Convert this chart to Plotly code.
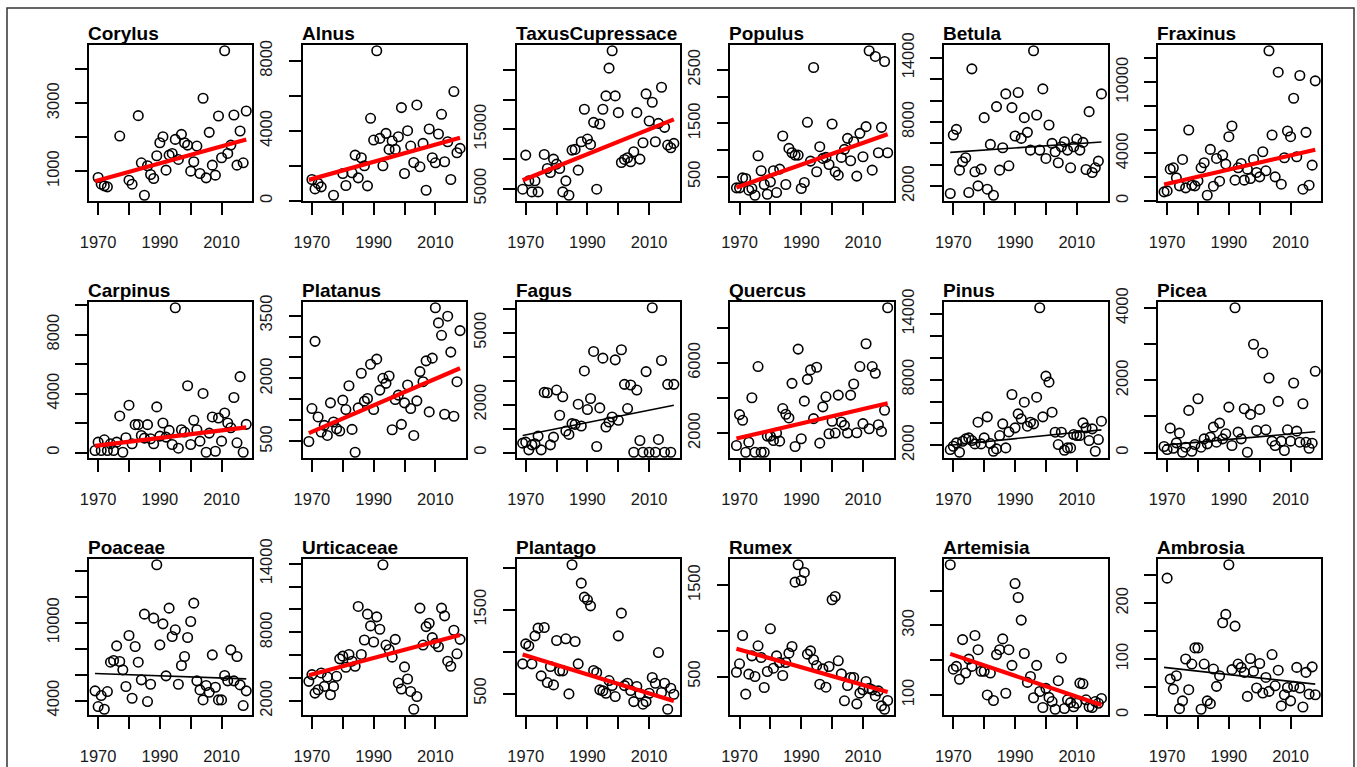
import plotly.graph_objects as go

# ---------------- data ----------------
YEARS = [1969, 1970, 1971, 1972, 1973, 1974, 1975, 1976, 1977, 1978,
         1979, 1980, 1981, 1982, 1983, 1984, 1985, 1986, 1987, 1988,
         1989, 1990, 1991, 1992, 1993, 1994, 1995, 1996, 1997, 1998,
         1999, 2000, 2001, 2002, 2003, 2004, 2005, 2006, 2007, 2008,
         2009, 2010, 2011, 2012, 2013, 2014, 2015, 2016, 2017, 2018]

corylus_years = [1970, 1971, 1972, 1973, 1977, 1980, 1981, 1983] + YEARS[15:]
corylus = [813, 616, 567, 537, 2034, 734, 616, 2635, 1246, 291, 1158, 902, 783, 1453, 1837, 2015,
           1030, 1473, 1522, 1936, 1345, 2084, 1837, 1768, 1000, 1276, 1739, 931, 3147, 803, 2143,
           1177, 882, 2625, 1394, 4546, 1522, 1768, 2655, 1177, 2182, 1246, 2773]

alnus_years = [1970, 1971, 1972, 1973, 1977, 1980, 1981, 1983] + YEARS[15:]
alnus = [1222, 687, 993, 802, 325, 1565, 878, 1604, 2615, 1317, 2463, 2004, 859, 4715, 3474, 8571,
         3570, 2004, 3856, 2940, 3417, 2940, 3665, 5326, 1565, 4009, 3131, 2195, 5479, 1947, 3283,
         611, 4104, 2463, 2176, 3818, 4944, 2234, 3379, 1222, 6242, 2749, 2997]

taxus_years = YEARS[0:6] + YEARS[7:]
taxus = [4887, 10634, 6296, 4437, 6296, 4437, 10747, 8380, 7704, 9958, 9113, 8380, 4437, 6296, 3873,
         11479, 11592, 8099, 12888, 18352, 13338, 12437, 16155, 4887, 15874, 18352, 20606, 25282,
         28212, 20606, 17789, 9394, 9901, 10183, 9507, 11197, 17789, 9958, 12718, 20944, 16381,
         19536, 12888, 15986, 22071, 15310, 12324, 11873, 12606]

populus = [294, 294, 481, 469, 250, 281, 156, 894, 613, 356, 175, 406, 613, 206, 644, 1263, 356, 1031,
           950, 906, 906, 281, 394, 1519, 794, 2544, 594, 1063, 844, 863, 731, 1488, 594, 531, 863,
           1013, 1219, 800, 1156, 513, 1313, 875, 1438, 2856, 625, 2750, 950, 1425, 2656, 950]

betula = [1313, 6781, 7313, 3500, 4281, 4656, 1406, 12969, 3344, 2031, 3594, 8406, 1719, 5906, 1156,
          9438, 3500, 5594, 10625, 3906, 9344, 6688, 10750, 6469, 8406, 7031, 5375, 14656, 8656, 5375,
          11094, 4594, 7719, 6000, 5219, 4188, 5688, 6156, 5375, 3719, 5688, 6406, 5375, 6094, 3563,
          8969, 3281, 3719, 4344, 10625]

fraxinus = [761, 845, 2676, 2789, 1944, 1268, 3493, 1099, 5972, 1324, 1268, 1690, 2789, 3211, 479,
            4338, 1240, 3578, 1662, 3859, 3099, 5409, 6310, 1747, 2789, 3155, 1747, 2676, 1887, 3493,
            2394, 2028, 4141, 2535, 12648, 5549, 2028, 10845, 1409, 3634, 5887, 5409, 8648, 3718,
            10564, 986, 5775, 1324, 3014, 10113]

carpinus = [137, 707, 137, 866, 137, 593, 137, 707, 2484, 23, 1003, 3213, 593, 1892, 1892, 1162, 980,
            1892, 934, 593, 3099, 1117, 2006, 1048, 1504, 547, 9823, 296, 1550, 1390, 4535, 547, 2188,
            1550, 775, 4011, 23, 1322, 2416, 91, 2347, 775, 2689, 2006, 1686, 3738, 661, 5151, 23, 1914]

platanus = [500, 1284, 2884, 1084, 724, 884, 644, 1420, 964, 804, 748, 1484, 1260, 1828, 788, 244,
            1300, 2124, 1460, 1524, 2340, 1260, 2460, 1724, 2004, 1884, 2060, 780, 1500, 1604, 908,
            1420, 1844, 1284, 644, 1468, 2164, 1924, 2420, 1204, 2484, 3684, 3324, 3028, 1148, 3484,
            2628, 1100, 1924, 3140]

fagus = [393, 435, 112, 322, 365, 687, 112, 2510, 2496, 322, 645, 2608, 1556, 2327, 897, 757, 1206,
         1178, 2019, 1108, 3407, 1795, 2257, 4220, 252, 1865, 3940, 1066, 1276, 1486, 3870, 1346,
         4290, 2846, 1837, 2818, 14, 2608, 505, 14, 3379, 14, 6043, 14, 547, 3842, 14, 2846, 14, 2846]

quercus = [1291, 3054, 2728, 907, 1482, 4013, 907, 5796, 907, 907, 1827, 1827, 1578, 2000, 1540,
           3399, 3074, 2863, 4837, 1233, 6793, 1674, 3821, 5067, 5604, 2824, 5757, 1425, 3495, 4070,
           1962, 2671, 2000, 4166, 2633, 2441, 2000, 4166, 4799, 2019, 5796, 2537, 7099, 2249, 5796,
           5412, 2479, 2096, 3304, 9150]

pinus = [1603, 1908, 2214, 1359, 2366, 2580, 2672, 2427, 2122, 4107, 2122, 2672, 4595, 2153, 1450,
         1664, 2885, 3954, 1756, 3221, 6641, 3588, 4870, 4412, 5938, 3740, 4107, 3954, 6396, 14578,
         4595, 8320, 7770, 5022, 3191, 2061, 3191, 1542, 1756, 1756, 2977, 2885, 2885, 4046, 3588,
         2427, 3496, 1450, 2519, 4198]

picea = [167, 83, 676, 120, 269, 537, 9, 148, 1167, 37, 222, 1491, 148, 380, 241, 426, 704, 287, 815,
         380, 519, 1259, 194, 4010, 565, 380, 1213, 9, 1056, 3000, 611, 1195, 2759, 630, 2065, 315,
         194, 1417, 315, 56, 630, 315, 1926, 593, 287, 1352, 287, 120, 259, 2250]

poaceae = [4746, 3537, 4386, 3332, 4694, 6957, 7085, 8216, 7008, 6365, 5080, 9013, 4180, 8165, 6957,
           5594, 10659, 3923, 5260, 10350, 14464, 8294, 9913, 5903, 11122, 8936, 9451, 5260, 6700,
           7394, 8859, 10093, 11507, 5517, 4823, 4051, 5157, 4643, 7522, 5028, 4051, 4051, 5928,
           5517, 7908, 5517, 7394, 5208, 3614, 4746]

urticaceae = [3706, 4294, 2676, 2971, 4441, 3265, 4088, 2529, 3265, 4147, 5676, 5912, 4941, 6059,
              5470, 5029, 10264, 6059, 7323, 9588, 8558, 7147, 9353, 8264, 13911, 6882, 6500, 5823,
              7382, 3559, 3029, 4970, 3912, 2823, 1265, 2382, 10117, 6882, 8500, 8794, 7529, 7029,
              6735, 10117, 9441, 5470, 5029, 8176, 6117, 7382]

plantago = [854, 1093, 1069, 854, 1188, 1280, 711, 1288, 631, 822, 603, 1133, 771, 771, 1153, 496,
            2036, 1121, 854, 1817, 1650, 1618, 1546, 775, 751, 544, 532, 504, 655, 595, 464, 1188,
            1459, 595, 623, 536, 404, 584, 496, 373, 404, 504, 691, 623, 989, 512, 623, 313, 564, 492]

rumex = [547, 639, 949, 307, 526, 726, 500, 836, 708, 380, 555, 1022, 591, 726, 653, 511, 653, 756,
         829, 1533, 1723, 1551, 1639, 745, 781, 683, 620, 416, 584, 383, 610, 1340, 1376, 672, 529,
         234, 401, 489, 489, 201, 318, 354, 445, 372, 354, 288, 343, 179, 142, 237]

artemisia = [474, 174, 182, 145, 259, 163, 203, 182, 271, 230, 168, 168, 100, 163, 84, 216, 230, 261,
             105, 230, 185, 420, 380, 315, 219, 136, 153, 92, 185, 110, 64, 119, 93, 81, 59, 141, 206,
             61, 86, 78, 66, 76, 134, 132, 86, 66, 64, 81, 76, 90]

ambrosia_years = YEARS[1:]
ambrosia = [245, 64, 46, 70, 11, 25, 100, 45, 91, 120, 120, 10, 91, 25, 20, 82, 51, 70, 165, 180,
            269, 81, 159, 91, 85, 76, 33, 101, 78, 48, 92, 39, 67, 42, 108, 52, 80, 16, 36, 49, 25,
            51, 85, 48, 14, 76, 37, 86, 36]

# fitted trend values at 1969 and 2018, and whether the trend is significant (red)
TREND_YEARS = [1969, 2018]
trends = {
    "Corylus": ([700, 1930], True), "Alnus": ([1200, 3610], True),
    "TaxusCupressace": ([6400, 16650], True), "Populus": ([300, 1295], True),
    "Betula": ([5160, 6125], False), "Fraxinus": ([1380, 4310], True),
    "Carpinus": ([455, 1710], True), "Platanus": ([700, 2245], True),
    "Fagus": ([715, 1975], False), "Quercus": ([1690, 3705], True),
    "Pinus": ([2000, 3400], False), "Picea": ([205, 575], False),
    "Poaceae": ([6085, 5670], False), "Urticaceae": ([4235, 7765], True),
    "Plantago": ([965, 410], True), "Rumex": ([805, 330], True),
    "Artemisia": ([218, 71], True), "Ambrosia": ([85, 55], False),
}

# tick values and which are labelled
x_ticks = [1970, 1980, 1990, 2000, 2010]
x_ticktext = ["1970", "", "1990", "", "2010"]
y_ticks = {
    "Corylus": ([1000, 2000, 3000, 4000], ["1000", "", "3000", ""]),
    "Alnus": ([0, 2000, 4000, 6000, 8000], ["0", "", "4000", "", "8000"]),
    "TaxusCupressace": ([5000, 10000, 15000, 20000, 25000], ["5000", "", "15000", "", ""]),
    "Populus": ([500, 1000, 1500, 2000, 2500], ["500", "", "1500", "", "2500"]),
    "Betula": ([2000, 4000, 6000, 8000, 10000, 12000, 14000], ["2000", "", "", "8000", "", "", "14000"]),
    "Fraxinus": ([0, 2000, 4000, 6000, 8000, 10000, 12000], ["0", "", "4000", "", "", "10000", ""]),
    "Carpinus": ([0, 2000, 4000, 6000, 8000, 10000], ["0", "", "4000", "", "8000", ""]),
    "Platanus": ([500, 1000, 1500, 2000, 2500, 3000, 3500], ["500", "", "", "2000", "", "", "3500"]),
    "Fagus": ([0, 1000, 2000, 3000, 4000, 5000, 6000], ["0", "", "2000", "", "", "5000", ""]),
    "Quercus": ([2000, 4000, 6000, 8000], ["2000", "", "6000", ""]),
    "Pinus": ([2000, 4000, 6000, 8000, 10000, 12000, 14000], ["2000", "", "", "8000", "", "", "14000"]),
    "Picea": ([0, 1000, 2000, 3000, 4000], ["0", "", "2000", "", "4000"]),
    "Poaceae": ([4000, 6000, 8000, 10000, 12000, 14000], ["4000", "", "", "10000", "", ""]),
    "Urticaceae": ([2000, 4000, 6000, 8000, 10000, 12000, 14000], ["2000", "", "", "8000", "", "", "14000"]),
    "Plantago": ([500, 1000, 1500, 2000], ["500", "", "1500", ""]),
    "Rumex": ([500, 1000, 1500], ["500", "", "1500"]),
    "Artemisia": ([100, 200, 300, 400], ["100", "", "300", ""]),
    "Ambrosia": ([0, 50, 100, 150, 200, 250], ["0", "", "100", "", "200", ""]),
}

panels = [
    ("Corylus", corylus_years, corylus), ("Alnus", alnus_years, alnus),
    ("TaxusCupressace", taxus_years, taxus), ("Populus", YEARS, populus),
    ("Betula", YEARS, betula), ("Fraxinus", YEARS, fraxinus),
    ("Carpinus", YEARS, carpinus), ("Platanus", YEARS, platanus),
    ("Fagus", YEARS, fagus), ("Quercus", YEARS, quercus),
    ("Pinus", YEARS, pinus), ("Picea", YEARS, picea),
    ("Poaceae", YEARS, poaceae), ("Urticaceae", YEARS, urticaceae),
    ("Plantago", YEARS, plantago), ("Rumex", YEARS, rumex),
    ("Artemisia", YEARS, artemisia), ("Ambrosia", ambrosia_years, ambrosia),
]

# ---------------- layout geometry (pixels) ----------------
W, H = 1357, 767
COL_LEFT = [89, 302.8, 516.6, 730.4, 944.2, 1158]
ROW_TOP = [45, 302, 559]
BOX_W, BOX_H = 163.3, 156
FONT = "Liberation Sans, Arial, Helvetica, sans-serif"
XR = [1967.04, 2019.96]

fig = go.Figure()
layout = dict(
    template="none",
    width=W, height=H, autosize=False, margin=dict(l=0, r=0, t=0, b=0, pad=0),
    paper_bgcolor="white", plot_bgcolor="white", showlegend=False,
    font=dict(family=FONT, color="#1a1a1a"),
    annotations=[], shapes=[],
)

for i, (name, yrs, vals) in enumerate(panels):
    r, c = divmod(i, 6)
    n = i + 1
    xa, ya = f"x{n}", f"y{n}"
    left, top = COL_LEFT[c], ROW_TOP[r]
    lo, hi = min(vals), max(vals)
    pad = 0.04 * (hi - lo)
    tv, tt = y_ticks[name]

    fig.add_trace(go.Scatter(
        x=yrs, y=vals, mode="markers", xaxis=xa, yaxis=ya, cliponaxis=False,
        marker=dict(symbol="circle-open", size=9.5, color="black", line=dict(width=1.6, color="black")),
        hoverinfo="x+y",
    ))
    tr, sig = trends[name]
    fig.add_trace(go.Scatter(
        x=TREND_YEARS, y=tr, mode="lines", xaxis=xa, yaxis=ya,
        line=dict(color="#ff0000" if sig else "black", width=4.2 if sig else 1.6),
        hoverinfo="skip",
    ))

    axis_common = dict(
        showgrid=False, zeroline=False, showline=True, mirror=True, automargin=False,
        linecolor="black", linewidth=1.5, ticks="outside", ticklen=12,
        tickwidth=1.5, tickcolor="black",
        tickfont=dict(family=FONT, size=16.5, color="#1a1a1a"),
    )
    key = "" if n == 1 else str(n)
    layout["xaxis" + key] = dict(
        axis_common, domain=[left / W, (left + BOX_W) / W], anchor=ya,
        range=XR, tickmode="array", tickvals=x_ticks, ticktext=x_ticktext,
        tickangle=0, ticklabelstandoff=13,
    )
    layout["yaxis" + key] = dict(
        axis_common, domain=[1 - (top + BOX_H) / H, 1 - top / H], anchor=xa,
        range=[lo - pad, hi + pad], tickmode="array", tickvals=tv, ticktext=tt,
        tickangle=-90, ticklabelstandoff=10,
    )
    layout["annotations"].append(dict(
        text=f"<b>{name}</b>", xref="paper", yref="paper",
        x=left / W, y=1 - top / H, xanchor="left", yanchor="bottom",
        showarrow=False, font=dict(family=FONT, size=19, color="black"),
        borderpad=0, xshift=-2, yshift=0,
    ))

# outer frame
layout["shapes"].append(dict(
    type="rect", xref="paper", yref="paper",
    x0=7 / W, x1=1354 / W, y0=-0.05, y1=1 - 8 / H,
    line=dict(color="#333333", width=1.5), fillcolor="rgba(0,0,0,0)",
))

fig.update_layout(**layout)
fig.write_html(
    "out.html",
    config={"displayModeBar": False},
    post_script="document.body.style.margin='0';document.body.style.padding='0';"
                "document.documentElement.style.overflow='hidden';",
)
